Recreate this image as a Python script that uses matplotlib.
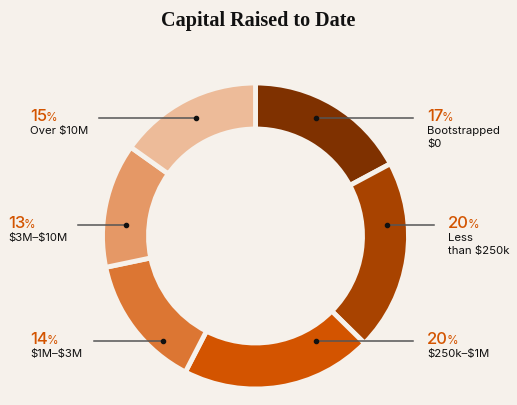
import matplotlib
matplotlib.use('Agg')
import matplotlib.pyplot as plt

# data
labels = ['Bootstrapped\n\\$0', 'Less\nthan \\$250k', '\\$250k\u2013\\$1M',
          '\\$1M\u2013\\$3M', '\\$3M\u2013\\$10M', 'Over \\$10M']
shares = [17, 20, 20, 14, 13, 15]
colors = ['#7F3100', '#A84300', '#D35400', '#DC7633', '#E59866', '#EDBB99']

# leader layout (pixels from top-left): dot x, dot y, line end x, text x
leaders = [
    (316, 119, 413, 427),
    (387, 226, 434, 448),
    (316, 342, 413, 427),
    (163, 342, 94, 30),
    (126, 226, 78, 8),
    (196, 119, 99, 30),
]

bg = '#F6F1EB'
W, H = 517, 406
cx, cy, R = 255.5, 237, 153

fig = plt.figure(figsize=(W / 100, H / 100), dpi=100, facecolor=bg)
ax = fig.add_axes([0, 0, 1, 1])
ax.set_facecolor(bg)

ax.pie(shares, colors=colors, startangle=90, counterclock=False,
       center=(cx, H - cy), radius=R,
       wedgeprops=dict(width=46, edgecolor=bg, linewidth=3.5))

ax.set_xlim(0, W)
ax.set_ylim(0, H)
ax.set_aspect('equal')
ax.axis('off')

fig.text(0.5, 1 - 21 / H, 'Capital Raised to Date', ha='center', va='center',
         family='Liberation Serif', weight='bold', fontsize=14.5, color='#111111')

fig.canvas.draw()
renderer = fig.canvas.get_renderer()

for (dx, dy, ex, tx), lab, val in zip(leaders, labels, shares):
    ax.plot([dx, ex], [H - dy, H - dy], color='#555555', lw=1.1, zorder=3)
    ax.plot(dx, H - dy, 'o', color='#111111', ms=3, zorder=4)
    num = ax.text(tx, H - dy - 2, str(val), ha='left', va='baseline',
                  family='Inter', fontsize=12, color='#D35400', weight='medium')
    bb = num.get_window_extent(renderer)
    x_end = ax.transData.inverted().transform((bb.x1, bb.y0))[0]
    ax.text(x_end - 1.5, H - dy - 2, '%', ha='left', va='baseline',
            family='Inter', fontsize=8.5, color='#D35400')
    for i, line in enumerate(lab.split('\n')):
        ax.text(tx, H - dy - 15 - i * 13.5, line, ha='left', va='baseline',
                family='Inter', fontsize=8.2, color='#111111')

fig.savefig('out.png', dpi=100, facecolor=bg)
